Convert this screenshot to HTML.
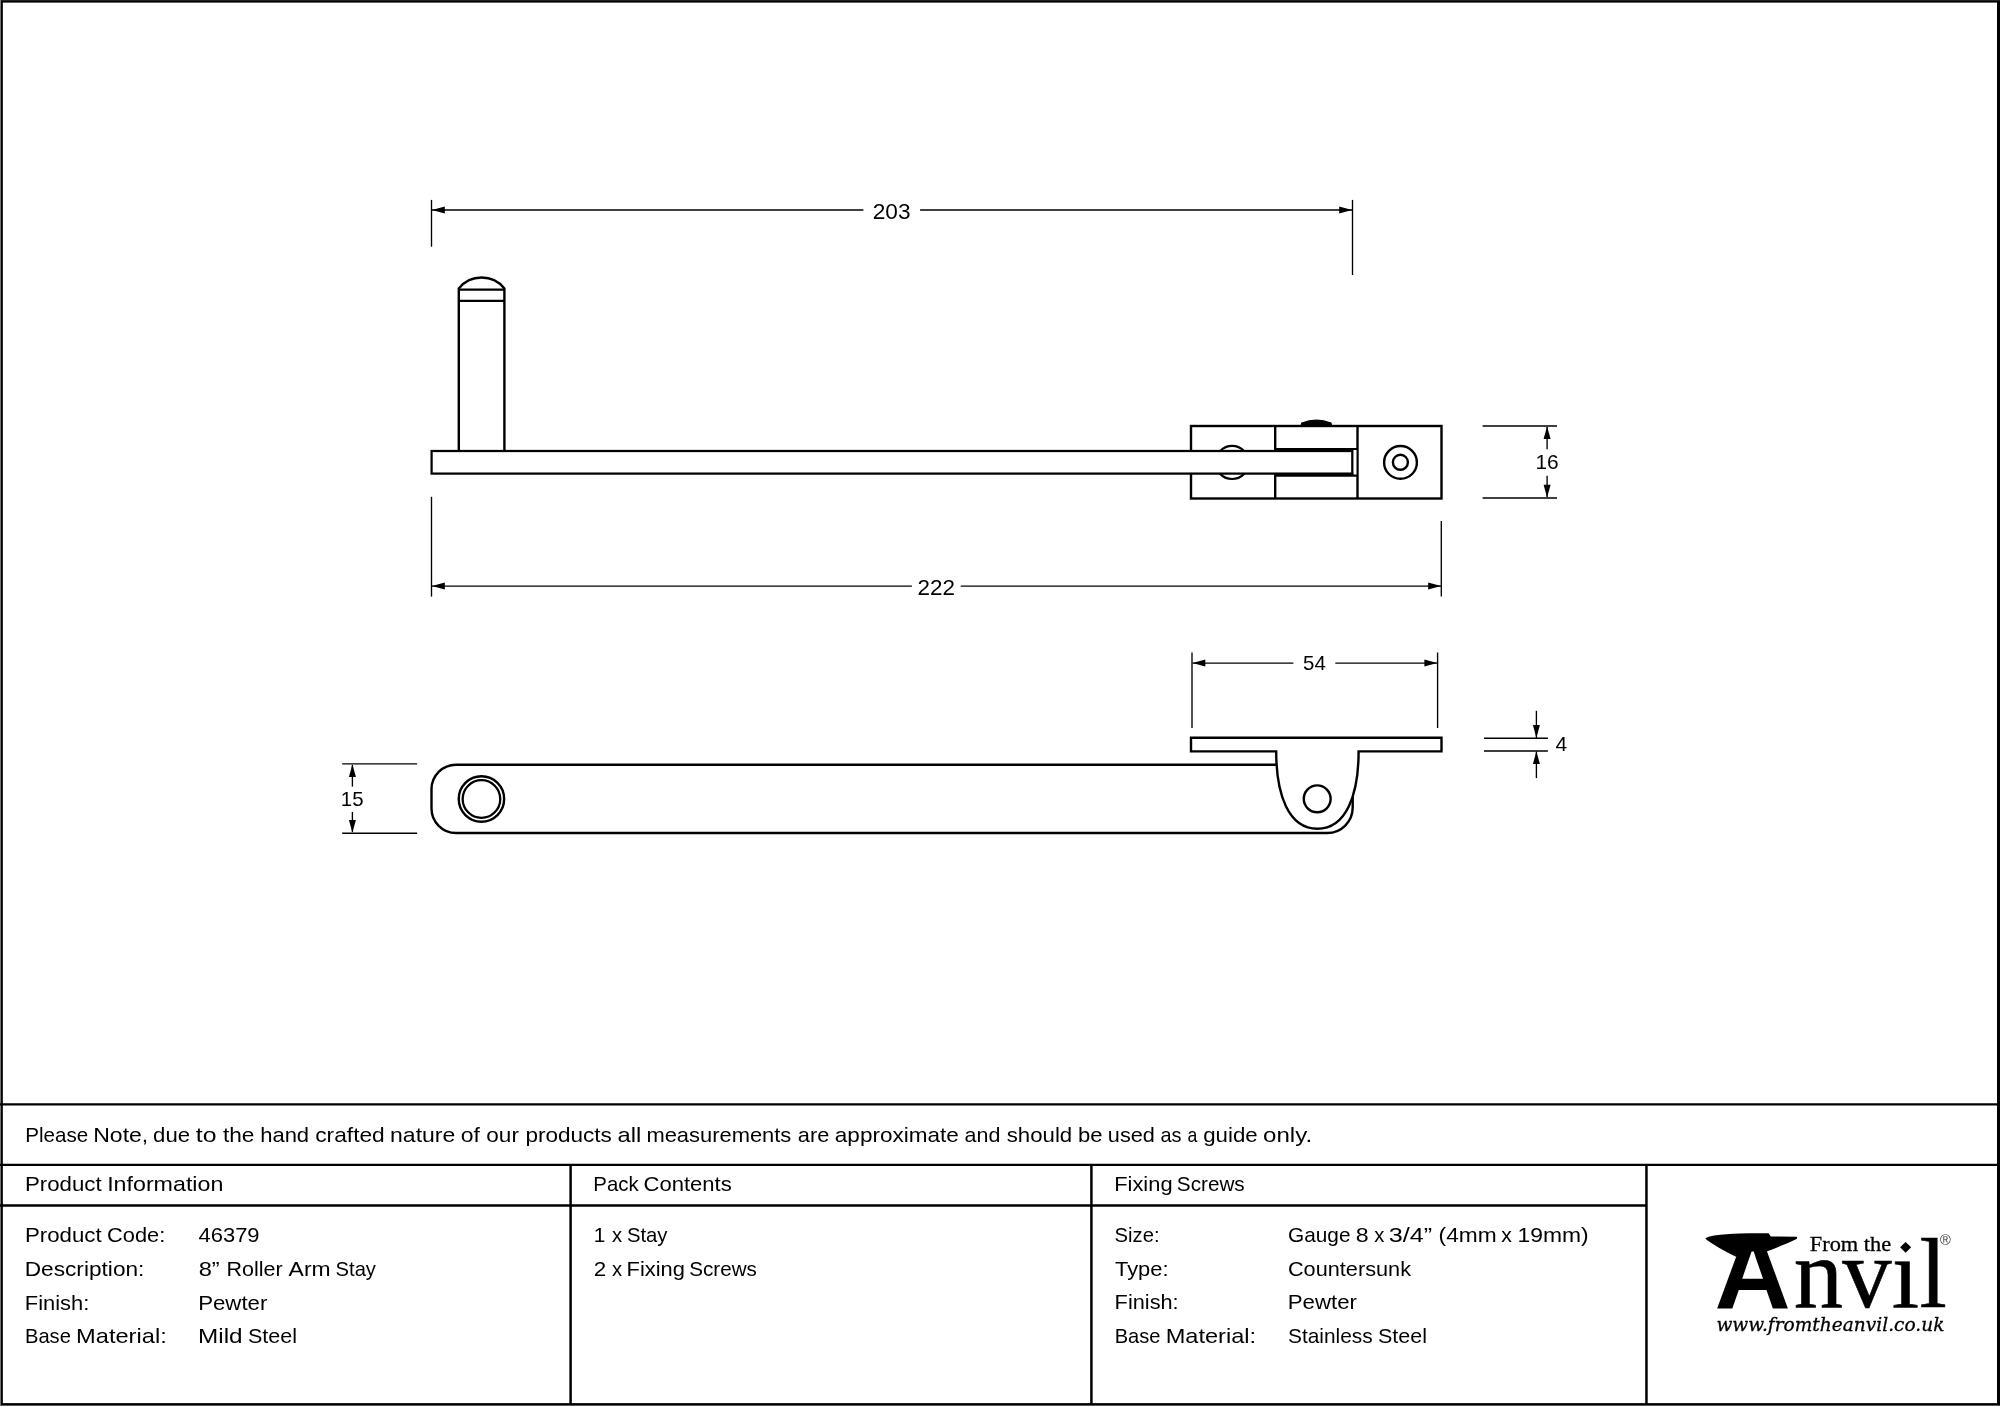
<!DOCTYPE html>
<html lang="en"><head><meta charset="utf-8"><title>8" Roller Arm Stay - 46379</title>
<style>
html,body{margin:0;padding:0;background:#fff;}
body{width:2000px;height:1406px;overflow:hidden;}
svg{display:block;will-change:transform;}
text{white-space:pre;}
</style></head><body>
<svg width="2000" height="1406" viewBox="0 0 2000 1406">
<rect x="0" y="0" width="2000" height="1406" fill="#fff"/>

<rect x="0" y="0" width="2000" height="2.6" fill="#000"/>
<rect x="0" y="1403.1" width="2000" height="2.9" fill="#000"/>
<rect x="0" y="0" width="2.85" height="1406" fill="#000"/>
<rect x="1997" y="0" width="3" height="1406" fill="#000"/>
<rect x="0" y="0" width="2000" height="1" fill="#222"/>
<rect x="0" y="1405" width="2000" height="1" fill="#555"/>
<rect x="0" y="0" width="1" height="1406" fill="#777"/>
<line x1="0" y1="1104.4" x2="2000" y2="1104.4" stroke="#000" stroke-width="2.3" />
<line x1="0" y1="1164.9" x2="2000" y2="1164.9" stroke="#000" stroke-width="2.3" />
<line x1="0" y1="1205.5" x2="1646.45" y2="1205.5" stroke="#000" stroke-width="2.3" />
<line x1="570.6" y1="1164.9" x2="570.6" y2="1404" stroke="#000" stroke-width="2.5" />
<line x1="1091.4" y1="1164.9" x2="1091.4" y2="1404" stroke="#000" stroke-width="2.5" />
<line x1="1646.45" y1="1164.9" x2="1646.45" y2="1404" stroke="#000" stroke-width="2.5" />
<rect x="1191" y="426" width="250.5" height="72.5" fill="none" stroke="#000" stroke-width="2.4"/>
<line x1="1275.2" y1="425.9" x2="1275.2" y2="498.4" stroke="#000" stroke-width="2.4" />
<line x1="1357.5" y1="425.9" x2="1357.5" y2="498.4" stroke="#000" stroke-width="2.4" />
<circle cx="1232.1" cy="462.4" r="16.6" fill="none" stroke="#000" stroke-width="2.2"/>
<circle cx="1400.5" cy="462.4" r="16.4" fill="none" stroke="#000" stroke-width="2.4"/>
<circle cx="1400.4" cy="462.3" r="7.5" fill="none" stroke="#000" stroke-width="2.4"/>
<path d="M1301.2,425.5 L1301.8,423 Q1316.4,417.4 1331,423 L1331.5,425.5 Z" fill="#000" stroke="#000" stroke-width="1.2" stroke-linejoin="round"/>
<rect x="1276.4" y="449" width="79.89999999999986" height="27" fill="#fff"/>
<line x1="1274.1" y1="449.05" x2="1357.4" y2="449.05" stroke="#000" stroke-width="2.1" />
<line x1="1274.1" y1="475.7" x2="1357.4" y2="475.7" stroke="#000" stroke-width="2.2" />
<rect x="431.6" y="451" width="920.6999999999999" height="22.600000000000023" fill="#fff" stroke="#000" stroke-width="2.25"/>
<rect x="1274.1" y="473.4" width="79.30000000000018" height="2.4" fill="#000"/>
<path d="M458.8,450 V288.5 A29.25,29.25 0 0 1 504.4,288.5 V450" fill="none" stroke="#000" stroke-width="2.4"/>
<line x1="458.8" y1="289.6" x2="504.4" y2="289.6" stroke="#000" stroke-width="2.2" />
<line x1="458.8" y1="300.8" x2="504.4" y2="300.8" stroke="#000" stroke-width="2.2" />
<line x1="431.5" y1="199.9" x2="431.5" y2="246.7" stroke="#000" stroke-width="1.35" />
<line x1="1352.5" y1="199.9" x2="1352.5" y2="275" stroke="#000" stroke-width="1.35" />
<line x1="432" y1="210" x2="863.4" y2="210" stroke="#000" stroke-width="1.35" />
<line x1="920.1" y1="210" x2="1352" y2="210" stroke="#000" stroke-width="1.35" />
<polygon points="432.00,210.00 444.80,206.50 444.80,213.50" fill="#000"/>
<polygon points="1352.00,210.00 1339.20,213.50 1339.20,206.50" fill="#000"/>
<text x="872.77" y="219" font-family="&quot;Liberation Sans&quot;, sans-serif" font-size="22.8" text-anchor="start" textLength="37.82" lengthAdjust="spacingAndGlyphs" fill="#000" >203</text>
<line x1="431.5" y1="496.8" x2="431.5" y2="596.6" stroke="#000" stroke-width="1.35" />
<line x1="1441.3" y1="521.1" x2="1441.3" y2="596.6" stroke="#000" stroke-width="1.35" />
<line x1="432" y1="586.1" x2="911.9" y2="586.1" stroke="#000" stroke-width="1.35" />
<line x1="960.7" y1="586.1" x2="1441" y2="586.1" stroke="#000" stroke-width="1.35" />
<polygon points="432.00,586.10 444.80,582.60 444.80,589.60" fill="#000"/>
<polygon points="1441.00,586.10 1428.20,589.60 1428.20,582.60" fill="#000"/>
<text x="917.58" y="594.9" font-family="&quot;Liberation Sans&quot;, sans-serif" font-size="22.8" text-anchor="start" textLength="37.47" lengthAdjust="spacingAndGlyphs" fill="#000" >222</text>
<line x1="1482.6" y1="426" x2="1557" y2="426" stroke="#000" stroke-width="1.35" />
<line x1="1482.6" y1="498" x2="1557" y2="498" stroke="#000" stroke-width="1.35" />
<line x1="1547.1" y1="427" x2="1547.1" y2="449.2" stroke="#000" stroke-width="1.35" />
<line x1="1547.1" y1="475.7" x2="1547.1" y2="497" stroke="#000" stroke-width="1.35" />
<polygon points="1547.10,426.30 1550.60,439.10 1543.60,439.10" fill="#000"/>
<polygon points="1547.10,497.60 1543.60,484.80 1550.60,484.80" fill="#000"/>
<text x="1535.43" y="468.7" font-family="&quot;Liberation Sans&quot;, sans-serif" font-size="20.4" text-anchor="start" textLength="23.26" lengthAdjust="spacingAndGlyphs" fill="#000" >16</text>
<path d="M1277,764.75 H456 A24.5,24.5 0 0 0 431.5,789.25 V808.5 A24.5,24.5 0 0 0 456,833 H1327.3 A25.4,25.4 0 0 0 1352.7,807.6 V795" fill="none" stroke="#000" stroke-width="2.4"/>
<circle cx="481.45" cy="799" r="22.7" fill="none" stroke="#000" stroke-width="2.4"/>
<circle cx="481.45" cy="799" r="18.8" fill="none" stroke="#000" stroke-width="2.3"/>
<path d="M1276.2,751.4 H1191 V737.8 H1441.5 V751.4 H1358.6 C1358.6,794.5 1346.4,828.7 1317.4,828.7 C1288.4,828.7 1276.2,794.5 1276.2,751.4 Z" fill="#fff" stroke="#000" stroke-width="2.4" stroke-linejoin="miter"/>
<circle cx="1317.2" cy="798.8" r="13.45" fill="none" stroke="#000" stroke-width="2.4"/>
<line x1="1192" y1="652.5" x2="1192" y2="728" stroke="#000" stroke-width="1.35" />
<line x1="1437.6" y1="652.5" x2="1437.6" y2="728" stroke="#000" stroke-width="1.35" />
<line x1="1192.5" y1="663.1" x2="1293.4" y2="663.1" stroke="#000" stroke-width="1.35" />
<line x1="1335.3" y1="663.1" x2="1437" y2="663.1" stroke="#000" stroke-width="1.35" />
<polygon points="1192.50,663.10 1205.30,659.60 1205.30,666.60" fill="#000"/>
<polygon points="1437.20,663.10 1424.40,666.60 1424.40,659.60" fill="#000"/>
<text x="1303.08" y="670.1" font-family="&quot;Liberation Sans&quot;, sans-serif" font-size="20.4" text-anchor="start" textLength="22.73" lengthAdjust="spacingAndGlyphs" fill="#000" >54</text>
<line x1="1484" y1="738.2" x2="1547.9" y2="738.2" stroke="#000" stroke-width="1.35" />
<line x1="1484" y1="751" x2="1547.9" y2="751" stroke="#000" stroke-width="1.35" />
<line x1="1536.4" y1="710.8" x2="1536.4" y2="738" stroke="#000" stroke-width="1.35" />
<line x1="1536.4" y1="751.5" x2="1536.4" y2="778.1" stroke="#000" stroke-width="1.35" />
<polygon points="1536.40,737.90 1532.90,725.10 1539.90,725.10" fill="#000"/>
<polygon points="1536.40,751.30 1539.90,764.10 1532.90,764.10" fill="#000"/>
<text x="1555.53" y="750.7" font-family="&quot;Liberation Sans&quot;, sans-serif" font-size="20.4" text-anchor="start" textLength="11.67" lengthAdjust="spacingAndGlyphs" fill="#000" >4</text>
<line x1="342.2" y1="763.9" x2="417.1" y2="763.9" stroke="#000" stroke-width="1.35" />
<line x1="342.2" y1="833.2" x2="417.1" y2="833.2" stroke="#000" stroke-width="1.35" />
<line x1="352.4" y1="765" x2="352.4" y2="786.6" stroke="#000" stroke-width="1.35" />
<line x1="352.4" y1="811.9" x2="352.4" y2="832" stroke="#000" stroke-width="1.35" />
<polygon points="352.40,764.30 355.90,777.10 348.90,777.10" fill="#000"/>
<polygon points="352.40,832.80 348.90,820.00 355.90,820.00" fill="#000"/>
<text x="340.87" y="805.8" font-family="&quot;Liberation Sans&quot;, sans-serif" font-size="20.4" text-anchor="start" textLength="22.69" lengthAdjust="spacingAndGlyphs" fill="#000" >15</text>
<text y="1142.4" font-family="&quot;Liberation Sans&quot;, sans-serif" font-size="21.0" fill="#000"><tspan x="25.20" textLength="62.98" lengthAdjust="spacingAndGlyphs">Please</tspan> <tspan x="93.20" textLength="55.08" lengthAdjust="spacingAndGlyphs">Note,</tspan> <tspan x="153.06" textLength="37.01" lengthAdjust="spacingAndGlyphs">due</tspan> <tspan x="195.83" textLength="20.70" lengthAdjust="spacingAndGlyphs">to</tspan> <tspan x="222.96" textLength="31.51" lengthAdjust="spacingAndGlyphs">the</tspan> <tspan x="260.16" textLength="48.96" lengthAdjust="spacingAndGlyphs">hand</tspan> <tspan x="315.23" textLength="69.54" lengthAdjust="spacingAndGlyphs">crafted</tspan> <tspan x="390.05" textLength="65.24" lengthAdjust="spacingAndGlyphs">nature</tspan> <tspan x="460.72" textLength="19.15" lengthAdjust="spacingAndGlyphs">of</tspan> <tspan x="486.34" textLength="32.61" lengthAdjust="spacingAndGlyphs">our</tspan> <tspan x="525.43" textLength="86.47" lengthAdjust="spacingAndGlyphs">products</tspan> <tspan x="617.49" textLength="23.72" lengthAdjust="spacingAndGlyphs">all</tspan> <tspan x="646.42" textLength="144.92" lengthAdjust="spacingAndGlyphs">measurements</tspan> <tspan x="797.88" textLength="31.46" lengthAdjust="spacingAndGlyphs">are</tspan> <tspan x="834.84" textLength="123.93" lengthAdjust="spacingAndGlyphs">approximate</tspan> <tspan x="964.59" textLength="35.77" lengthAdjust="spacingAndGlyphs">and</tspan> <tspan x="1006.69" textLength="65.54" lengthAdjust="spacingAndGlyphs">should</tspan> <tspan x="1077.97" textLength="24.52" lengthAdjust="spacingAndGlyphs">be</tspan> <tspan x="1107.89" textLength="46.98" lengthAdjust="spacingAndGlyphs">used</tspan> <tspan x="1160.45" textLength="21.07" lengthAdjust="spacingAndGlyphs">as</tspan> <tspan x="1187.45" textLength="9.83" lengthAdjust="spacingAndGlyphs">a</tspan> <tspan x="1203.25" textLength="54.43" lengthAdjust="spacingAndGlyphs">guide</tspan> <tspan x="1263.08" textLength="49.11" lengthAdjust="spacingAndGlyphs">only.</tspan></text>
<text y="1191" font-family="&quot;Liberation Sans&quot;, sans-serif" font-size="21.0" fill="#000"><tspan x="24.97" textLength="76.63" lengthAdjust="spacingAndGlyphs">Product</tspan> <tspan x="107.15" textLength="116.20" lengthAdjust="spacingAndGlyphs">Information</tspan></text>
<text y="1191" font-family="&quot;Liberation Sans&quot;, sans-serif" font-size="21.0" fill="#000"><tspan x="593.32" textLength="45.29" lengthAdjust="spacingAndGlyphs">Pack</tspan> <tspan x="643.50" textLength="88.28" lengthAdjust="spacingAndGlyphs">Contents</tspan></text>
<text y="1191" font-family="&quot;Liberation Sans&quot;, sans-serif" font-size="21.0" fill="#000"><tspan x="1114.19" textLength="58.37" lengthAdjust="spacingAndGlyphs">Fixing</tspan> <tspan x="1176.87" textLength="67.87" lengthAdjust="spacingAndGlyphs">Screws</tspan></text>
<text y="1242.3" font-family="&quot;Liberation Sans&quot;, sans-serif" font-size="21.0" fill="#000"><tspan x="24.97" textLength="76.63" lengthAdjust="spacingAndGlyphs">Product</tspan> <tspan x="107.11" textLength="58.18" lengthAdjust="spacingAndGlyphs">Code:</tspan></text>
<text x="198.51" y="1242.3" font-family="&quot;Liberation Sans&quot;, sans-serif" font-size="21.0" text-anchor="start" textLength="61.1" lengthAdjust="spacingAndGlyphs" fill="#000" >46379</text>
<text x="24.73" y="1276" font-family="&quot;Liberation Sans&quot;, sans-serif" font-size="21.0" text-anchor="start" textLength="119.71" lengthAdjust="spacingAndGlyphs" fill="#000" >Description:</text>
<text y="1276" font-family="&quot;Liberation Sans&quot;, sans-serif" font-size="21.0" fill="#000"><tspan x="198.69" textLength="21.08" lengthAdjust="spacingAndGlyphs">8”</tspan> <tspan x="226.53" textLength="56.18" lengthAdjust="spacingAndGlyphs">Roller</tspan> <tspan x="288.64" textLength="41.96" lengthAdjust="spacingAndGlyphs">Arm</tspan> <tspan x="335.59" textLength="40.38" lengthAdjust="spacingAndGlyphs">Stay</tspan></text>
<text x="24.79" y="1309.5" font-family="&quot;Liberation Sans&quot;, sans-serif" font-size="21.0" text-anchor="start" textLength="64.59" lengthAdjust="spacingAndGlyphs" fill="#000" >Finish:</text>
<text x="198.17" y="1309.5" font-family="&quot;Liberation Sans&quot;, sans-serif" font-size="21.0" text-anchor="start" textLength="69.16" lengthAdjust="spacingAndGlyphs" fill="#000" >Pewter</text>
<text y="1343" font-family="&quot;Liberation Sans&quot;, sans-serif" font-size="21.0" fill="#000"><tspan x="24.94" textLength="45.96" lengthAdjust="spacingAndGlyphs">Base</tspan> <tspan x="76.05" textLength="90.67" lengthAdjust="spacingAndGlyphs">Material:</tspan></text>
<text y="1343" font-family="&quot;Liberation Sans&quot;, sans-serif" font-size="21.0" fill="#000"><tspan x="198.00" textLength="44.55" lengthAdjust="spacingAndGlyphs">Mild</tspan> <tspan x="248.03" textLength="49.01" lengthAdjust="spacingAndGlyphs">Steel</tspan></text>
<text y="1241.9" font-family="&quot;Liberation Sans&quot;, sans-serif" font-size="21.0" fill="#000"><tspan x="593.84" textLength="11.57" lengthAdjust="spacingAndGlyphs">1</tspan> <tspan x="611.95" textLength="10.11" lengthAdjust="spacingAndGlyphs">x</tspan> <tspan x="626.89" textLength="40.58" lengthAdjust="spacingAndGlyphs">Stay</tspan></text>
<text y="1275.9" font-family="&quot;Liberation Sans&quot;, sans-serif" font-size="21.0" fill="#000"><tspan x="593.68" textLength="12.47" lengthAdjust="spacingAndGlyphs">2</tspan> <tspan x="611.95" textLength="10.11" lengthAdjust="spacingAndGlyphs">x</tspan> <tspan x="626.59" textLength="58.37" lengthAdjust="spacingAndGlyphs">Fixing</tspan> <tspan x="689.27" textLength="67.67" lengthAdjust="spacingAndGlyphs">Screws</tspan></text>
<text x="1114.59" y="1241.7" font-family="&quot;Liberation Sans&quot;, sans-serif" font-size="21.0" text-anchor="start" textLength="44.94" lengthAdjust="spacingAndGlyphs" fill="#000" >Size:</text>
<text y="1241.7" font-family="&quot;Liberation Sans&quot;, sans-serif" font-size="21.0" fill="#000"><tspan x="1288.06" textLength="62.42" lengthAdjust="spacingAndGlyphs">Gauge</tspan> <tspan x="1355.81" textLength="12.90" lengthAdjust="spacingAndGlyphs">8</tspan> <tspan x="1374.15" textLength="10.11" lengthAdjust="spacingAndGlyphs">x</tspan> <tspan x="1388.65" textLength="43.45" lengthAdjust="spacingAndGlyphs">3/4”</tspan> <tspan x="1438.58" textLength="58.10" lengthAdjust="spacingAndGlyphs">(4mm</tspan> <tspan x="1501.33" textLength="10.63" lengthAdjust="spacingAndGlyphs">x</tspan> <tspan x="1517.49" textLength="71.12" lengthAdjust="spacingAndGlyphs">19mm)</tspan></text>
<text x="1115.01" y="1275.6" font-family="&quot;Liberation Sans&quot;, sans-serif" font-size="21.0" text-anchor="start" textLength="53.48" lengthAdjust="spacingAndGlyphs" fill="#000" >Type:</text>
<text x="1287.91" y="1275.6" font-family="&quot;Liberation Sans&quot;, sans-serif" font-size="21.0" text-anchor="start" textLength="123.09" lengthAdjust="spacingAndGlyphs" fill="#000" >Countersunk</text>
<text x="1114.61" y="1309.2" font-family="&quot;Liberation Sans&quot;, sans-serif" font-size="21.0" text-anchor="start" textLength="64.06" lengthAdjust="spacingAndGlyphs" fill="#000" >Finish:</text>
<text x="1287.77" y="1309.2" font-family="&quot;Liberation Sans&quot;, sans-serif" font-size="21.0" text-anchor="start" textLength="69.16" lengthAdjust="spacingAndGlyphs" fill="#000" >Pewter</text>
<text y="1342.7" font-family="&quot;Liberation Sans&quot;, sans-serif" font-size="21.0" fill="#000"><tspan x="1114.74" textLength="45.75" lengthAdjust="spacingAndGlyphs">Base</tspan> <tspan x="1165.65" textLength="90.46" lengthAdjust="spacingAndGlyphs">Material:</tspan></text>
<text y="1342.7" font-family="&quot;Liberation Sans&quot;, sans-serif" font-size="21.0" fill="#000"><tspan x="1288.06" textLength="84.67" lengthAdjust="spacingAndGlyphs">Stainless</tspan> <tspan x="1378.03" textLength="49.01" lengthAdjust="spacingAndGlyphs">Steel</tspan></text>
<clipPath id="nodot"><path clip-rule="evenodd" d="M1690,1225 H1990 V1345 H1690 Z M1896,1232 H1917 V1256 H1896 Z"/></clipPath>
<text fill="#000" clip-path="url(#nodot)"><tspan x="1714.46" y="1307.6" font-family="&quot;Liberation Sans&quot;, sans-serif" font-size="104" font-weight="bold" textLength="76.21" lengthAdjust="spacingAndGlyphs" >A</tspan><tspan x="1793.69 1842.18 1891.76 1919.43" y="1306.8" font-family="&quot;Liberation Serif&quot;, serif" font-size="98.5" stroke="#000" stroke-width="0.6">nvil</tspan></text>
<path d="M1705.4,1238.6 C1708,1236.8 1711,1236.2 1714.2,1235.6 C1722,1234.3 1731,1233.8 1739.8,1233.5 C1750,1233.1 1760,1233.1 1768.6,1233.2 L1770.8,1236.4 L1796.6,1236.8 Q1797.8,1237.8 1796.6,1238.9 C1790,1242 1781,1246 1767.3,1251.2 L1752,1251.6 L1736,1256.7 C1728,1253 1720,1248.5 1714.2,1244.8 C1710,1242.2 1707,1240.5 1705.4,1238.6 Z" fill="#000"/>
<text x="1809.79" y="1251.2" font-family="&quot;Liberation Serif&quot;, serif" font-size="21.8" text-anchor="start" textLength="81.37" lengthAdjust="spacingAndGlyphs" fill="#000" stroke="#000" stroke-width="0.3">From the</text>
<path d="M1905.6,1241.9 L1911.1,1247.3 L1905.6,1252.7 L1900.1,1247.3 Z" fill="#000"/>
<text x="1945.3" y="1244.9" font-family="&quot;Liberation Sans&quot;, sans-serif" font-size="14.6" text-anchor="middle" fill="#3a3a3a" >®</text>
<text x="1716.43" y="1331.0" font-family="&quot;DejaVu Serif&quot;, &quot;Liberation Serif&quot;, serif" font-size="18.4" text-anchor="start" textLength="228.06" lengthAdjust="spacingAndGlyphs" fill="#000" stroke="#000" stroke-width="0.3" font-style="italic">www.fromtheanvil.co.uk</text>
</svg></body></html>
